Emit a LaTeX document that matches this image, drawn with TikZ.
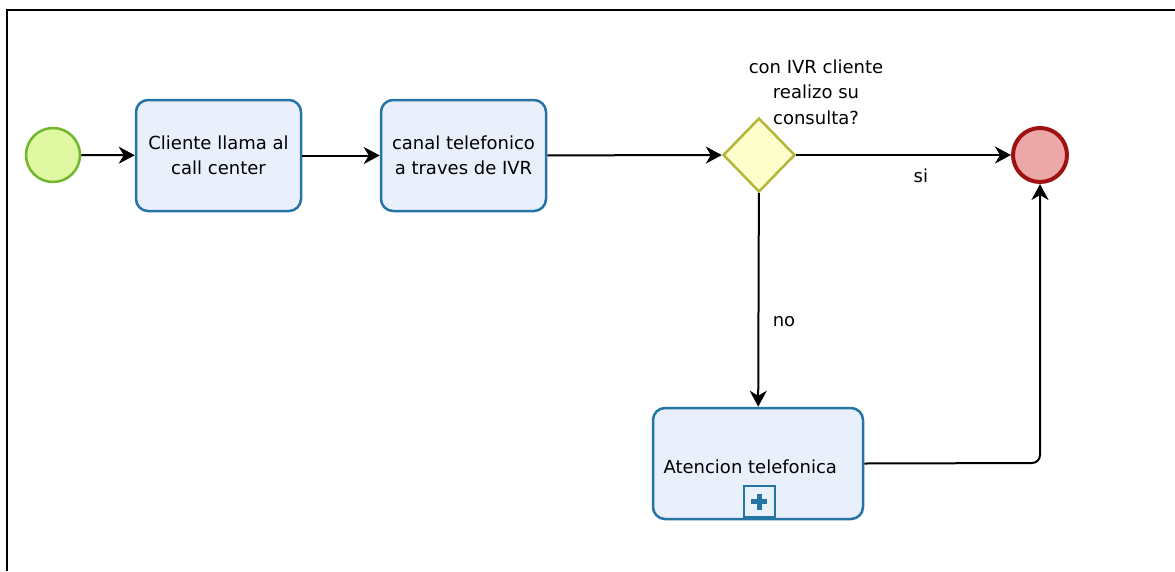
\documentclass[tikz,border=0pt]{standalone}
\usepackage{fontspec}
\setmainfont{DejaVu Sans}
\usetikzlibrary{arrows.meta,shapes.geometric}
\definecolor{startfill}{HTML}{E1F8A2}
\definecolor{startdraw}{HTML}{72B62B}
\definecolor{taskfill}{HTML}{EAEFFC}
\definecolor{taskdraw}{HTML}{2474A4}
\definecolor{gwfill}{HTML}{FEFECC}
\definecolor{gwdraw}{HTML}{B5B53A}
\definecolor{endfill}{HTML}{ECA8A8}
\definecolor{enddraw}{HTML}{A01010}
\tikzset{
  txt/.style={font=\fontsize{18}{25.5}\selectfont},
  taskbox/.style={draw=taskdraw, fill=taskfill, line width=2.5pt, rounded corners=12pt,
    minimum width=165pt, minimum height=111pt, inner sep=0pt, align=center, txt},
  startev/.style={circle, draw=startdraw, fill=startfill, line width=2.5pt, minimum size=54pt, inner sep=0pt},
  endev/.style={circle, draw=enddraw, fill=endfill, line width=4pt, minimum size=54pt, inner sep=0pt},
  gw/.style={diamond, draw=gwdraw, fill=gwfill, line width=2.5pt, minimum width=72pt, minimum height=74pt, inner sep=0pt},
  flow/.style={line width=2pt, -{Stealth[length=16pt,width=17pt,inset=5pt]}},
  frame/.style={line width=2.8pt}
}
\begin{document}
\begin{tikzpicture}[x=1pt,y=-1pt]
\useasboundingbox (0,0) rectangle (1175,571);
\coordinate (ftl) at (7,10);
\coordinate (ftr) at (1175,10);
\coordinate (fbl) at (7,571);
\draw[frame] (ftr) -- (ftl) -- (fbl);

\node[startev] (start) at (53,155) {};
\node[taskbox] (t1) at (218.5,155.5) {Cliente llama al\\call center};
\node[taskbox] (t2) at (463.5,155.5) {canal telefonico\\a traves de IVR};
\node[gw] (gw) at (759,155) {};
\node[txt, align=center] (gwlabel) at (816,92) {con IVR cliente\\realizo su\\consulta?};
\node[endev] (end) at (1040,155) {};
\node[taskbox, minimum width=210pt] (t3) at (758,463.5) {};
\node[txt, anchor=west] (t3label) at (660,467) {Atencion telefonica};
\node[draw=taskdraw, fill=taskfill, line width=2pt, minimum size=31pt, inner sep=0pt, anchor=south] (plus) at (759,518) {};
\draw[taskdraw, line width=5pt] ([xshift=-8pt]plus.center) -- ([xshift=8pt]plus.center);
\draw[taskdraw, line width=5pt] ([yshift=-8pt]plus.center) -- ([yshift=8pt]plus.center);

\draw[flow] (start) -- (t1);
\draw[flow] (t1) -- (t2);
\draw[flow] (t2) -- (gw);
\draw[flow] (gw) -- node[txt, pos=0.58, below=9pt] (si) {si} (end);
\draw[flow] (gw) -- node[txt, pos=0.6, right=10pt] (no) {no} (t3);
\coordinate (bend) at (1040,463);
\draw[flow, rounded corners=8pt] (t3.east) -- (bend) -- (end.south);
\end{tikzpicture}
\end{document}
